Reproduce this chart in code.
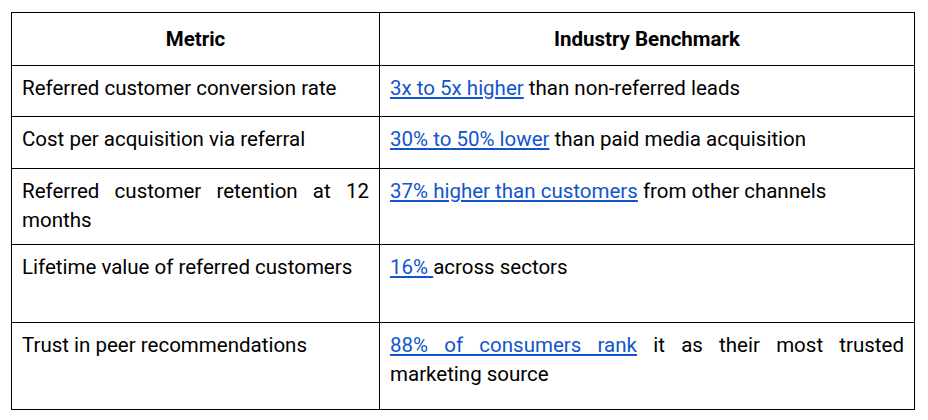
<!DOCTYPE html>
<html><head><meta charset="utf-8">
<script src="https://cdn.jsdelivr.net/npm/chart.js@4/dist/chart.umd.min.js"></script>
<style>
html,body{margin:0;padding:0;background:#fff;}
table{position:absolute;left:11px;top:12px;border-collapse:collapse;width:904px;table-layout:fixed;font-family:Roboto,"Liberation Sans",Arial,sans-serif;font-size:20.5px;color:#000;}
td,th{border:1px solid #000;vertical-align:top;padding:8px 10px 0 10px;line-height:29px;text-align:justify;box-sizing:border-box;}
th{font-weight:bold;text-align:center;vertical-align:middle;padding:0 10px;}
col.m{width:368px;}
a{color:#1155cc;text-decoration:underline;}
</style></head><body>
<table id="t"><colgroup><col class="m"><col></colgroup><thead><tr style="height:53px"><th>Metric</th><th>Industry Benchmark</th></tr></thead><tbody></tbody></table>
<script>
const headers=["Metric","Industry Benchmark"];
const metrics=["Referred customer conversion rate","Cost per acquisition via referral","Referred customer retention at 12 months","Lifetime value of referred customers","Trust in peer recommendations"];
const linkTexts=["3x to 5x higher","30% to 50% lower","37% higher than customers","16% ","88% of consumers rank"];
const restTexts=[" than non-referred leads"," than paid media acquisition"," from other channels","across sectors"," it as their most trusted marketing source"];
const rowHeights=[51,52,76,78,87];
const tb=document.querySelector('#t tbody');
metrics.forEach((m,i)=>{
  const tr=document.createElement('tr');tr.style.height=rowHeights[i]+'px';
  const a=document.createElement('td');a.textContent=m;
  const b=document.createElement('td');
  const l=document.createElement('a');l.href='#';l.textContent=linkTexts[i];
  b.appendChild(l);b.appendChild(document.createTextNode(restTexts[i]));
  tr.appendChild(a);tr.appendChild(b);tb.appendChild(tr);
});
</script>
</body></html>
